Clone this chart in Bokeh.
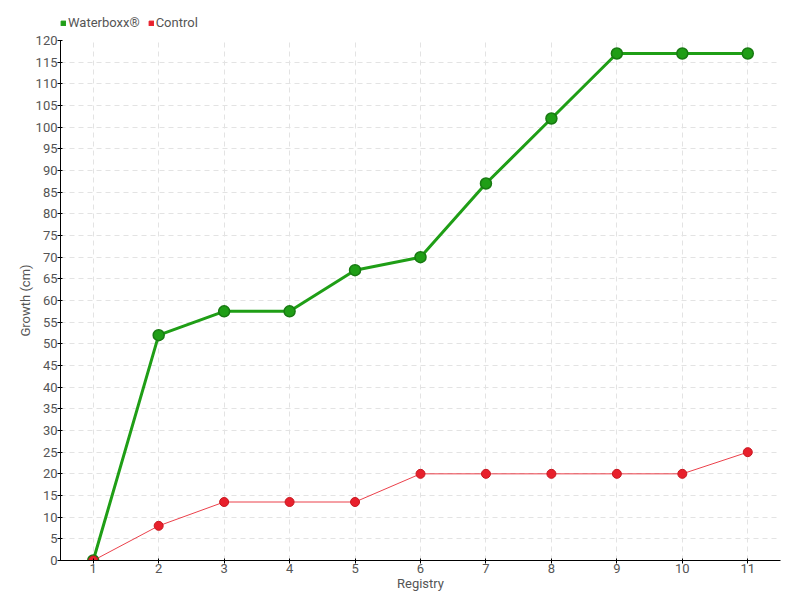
from bokeh.plotting import figure
from bokeh.layouts import column
from bokeh.models import Legend, LegendItem, FixedTicker, Range1d
from bokeh.embed import file_html
from bokeh.resources import INLINE

registry = [1, 2, 3, 4, 5, 6, 7, 8, 9, 10, 11]
waterboxx = [0, 52, 57.5, 57.5, 67, 70, 87, 102, 117, 117, 117]
control = [0, 8, 13.5, 13.5, 13.5, 20, 20, 20, 20, 20, 25]
y_ticks = list(range(0, 121, 5))
series_names = ["Waterboxx®", "Control"]

GREEN = "#1f9e16"
GREEN_DARK = "#187a12"
RED = "#e8202c"
FONT = "Roboto"

# legend strip
top = figure(width=800, height=30, output_backend="svg", toolbar_location=None,
             x_range=Range1d(0, 1), y_range=Range1d(0, 1),
             min_border=0, min_border_left=0, min_border_right=0, min_border_top=0, min_border_bottom=0)
top.axis.visible = False
top.grid.visible = False
top.outline_line_color = None
lg1 = top.quad(left=[-10], right=[-9], bottom=[-10], top=[-9], color=GREEN)
lg2 = top.quad(left=[-10], right=[-9], bottom=[-10], top=[-9], color=RED)
legend = Legend(items=[LegendItem(label=series_names[0], renderers=[lg1]),
                       LegendItem(label=series_names[1], renderers=[lg2])],
                orientation="horizontal", location=(0, 0),
                label_text_font=FONT, label_text_font_size="13px", label_text_color="#555555",
                glyph_width=6, glyph_height=6, label_standoff=2, spacing=8,
                padding=0, margin=0, border_line_color=None, background_fill_alpha=0)
top.add_layout(legend, "center")

p = figure(width=800, height=570, output_backend="svg", toolbar_location=None,
           x_range=Range1d(0.5, 11.5), y_range=Range1d(0, 120),
           min_border_left=60, min_border_top=10, min_border_right=20, min_border_bottom=40)
p.outline_line_color = None

p.line(registry, waterboxx, line_color=GREEN, line_width=3)
p.scatter(registry, waterboxx, size=11, fill_color=GREEN, line_color=GREEN_DARK, line_width=1.5)
p.line(registry, control, line_color=RED, line_width=1, line_alpha=0.85)
p.scatter(registry, control, size=9, fill_color=RED, line_color="#c81820", line_width=1)

for ax in (p.xaxis[0], p.yaxis[0]):
    ax.axis_line_color = "black"
    ax.major_tick_line_color = "black"
    ax.minor_tick_line_color = None
    ax.major_label_text_font = FONT
    ax.major_label_text_font_size = "13px"
    ax.major_label_text_color = "#555555"
    ax.axis_label_text_font = FONT
    ax.axis_label_text_font_size = "13px"
    ax.axis_label_text_color = "#555555"
    ax.axis_label_text_font_style = "normal"
    ax.major_tick_in = 2
    ax.major_tick_out = 3

p.xaxis.ticker = FixedTicker(ticks=registry)
p.yaxis.ticker = FixedTicker(ticks=y_ticks)
p.xaxis.axis_label = "Registry"
p.yaxis.axis_label = "Growth (cm)"
p.xaxis.axis_label_standoff = 0
p.yaxis.axis_label_standoff = 0
p.xaxis.major_label_standoff = 0
p.yaxis.major_label_standoff = 0

p.xgrid.grid_line_color = "#e3e3e3"
p.ygrid.grid_line_color = "#e3e3e3"
p.xgrid.grid_line_dash = "5 4"
p.ygrid.grid_line_dash = "5 4"

layout = column(top, p, spacing=0)
open("out.html", "w").write(file_html(layout, INLINE))
